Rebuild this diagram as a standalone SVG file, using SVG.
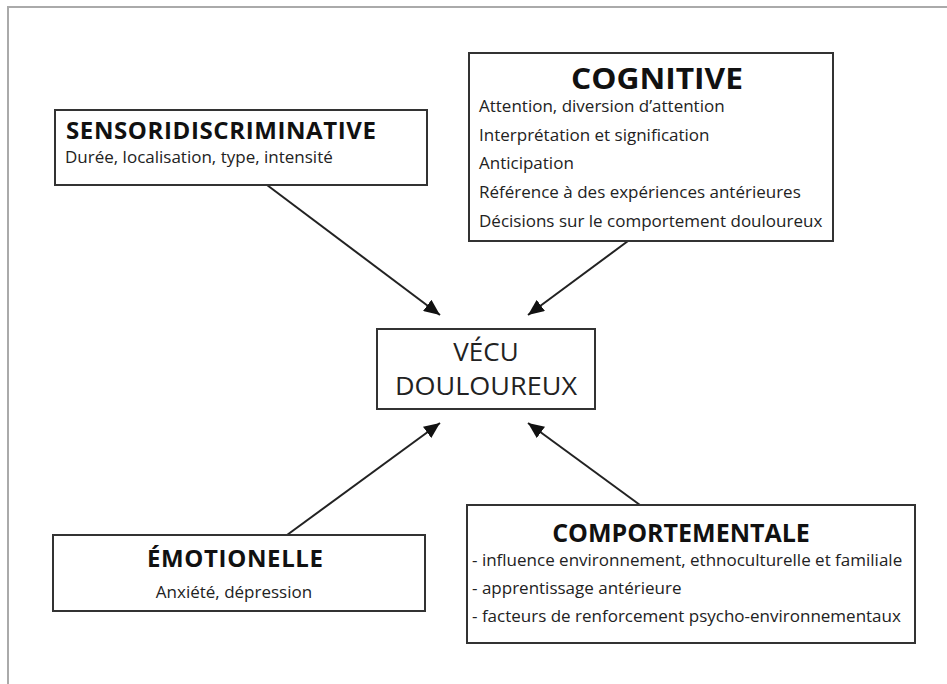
<svg xmlns="http://www.w3.org/2000/svg" width="947" height="684" viewBox="0 0 947 684">
<style>
.box{fill:#fff;stroke:#333;stroke-width:2}
.t{font-family:"Open Sans","Liberation Sans",sans-serif;font-weight:700;fill:#111}
.s{font-family:"Open Sans","Liberation Sans",sans-serif;font-size:17px;fill:#222}
.c{font-family:"Open Sans","Liberation Sans",sans-serif;font-size:26px;fill:#222}
.ln{stroke:#222;stroke-width:2;fill:none}
</style>
<defs>
<marker id="a" viewBox="0 0 16 14" refX="16" refY="7" markerWidth="16" markerHeight="14" markerUnits="userSpaceOnUse" orient="auto">
<path d="M0,0 L16,7 L0,14 z" fill="#111"/>
</marker>
</defs>
<rect width="947" height="684" fill="#fff"/>
<path d="M8,684 V7 H947" fill="none" stroke="#aaa" stroke-width="2"/>
<g id="connectors">
<line class="ln" x1="267" y1="185" x2="440" y2="315" marker-end="url(#a)"/>
<line class="ln" x1="628" y1="241" x2="528" y2="315" marker-end="url(#a)"/>
<line class="ln" x1="287" y1="535" x2="440" y2="423" marker-end="url(#a)"/>
<line class="ln" x1="640" y1="505" x2="528" y2="423" marker-end="url(#a)"/>
</g>
<g id="sensori">
<rect class="box" x="55" y="110" width="372" height="75"/>
<text class="t" x="66" y="139" font-size="24" textLength="310">SENSORIDISCRIMINATIVE</text>
<text class="s" x="65" y="163">Durée, localisation, type, intensité</text>
</g>
<g id="cognitive">
<rect class="box" x="469" y="53" width="364" height="188"/>
<text class="t" x="571" y="89" font-size="29" textLength="172" lengthAdjust="spacingAndGlyphs">COGNITIVE</text>
<text class="s" x="479" y="112">Attention, diversion d’attention</text>
<text class="s" x="479" y="141">Interprétation et signification</text>
<text class="s" x="479" y="169">Anticipation</text>
<text class="s" x="479" y="198">Référence à des expériences antérieures</text>
<text class="s" x="479" y="227">Décisions sur le comportement douloureux</text>
</g>
<g id="vecu">
<rect class="box" x="377" y="329" width="218" height="80"/>
<text class="c" x="486" y="361" text-anchor="middle">VÉCU</text>
<text class="c" x="395" y="395" textLength="182" lengthAdjust="spacingAndGlyphs">DOULOUREUX</text>
</g>
<g id="emotionelle">
<rect class="box" x="53" y="535" width="372" height="76"/>
<text class="t" x="147" y="567" font-size="24" textLength="176">ÉMOTIONELLE</text>
<text class="s" x="234" y="598" text-anchor="middle">Anxiété, dépression</text>
</g>
<g id="comportementale">
<rect class="box" x="467" y="505" width="448" height="138"/>
<text class="t" x="681" y="542" font-size="25" text-anchor="middle">COMPORTEMENTALE</text>
<text class="s" x="472" y="566">- influence environnement, ethnoculturelle et familiale</text>
<text class="s" x="472" y="594">- apprentissage antérieure</text>
<text class="s" x="472" y="622">- facteurs de renforcement psycho-environnementaux</text>
</g>
</svg>
